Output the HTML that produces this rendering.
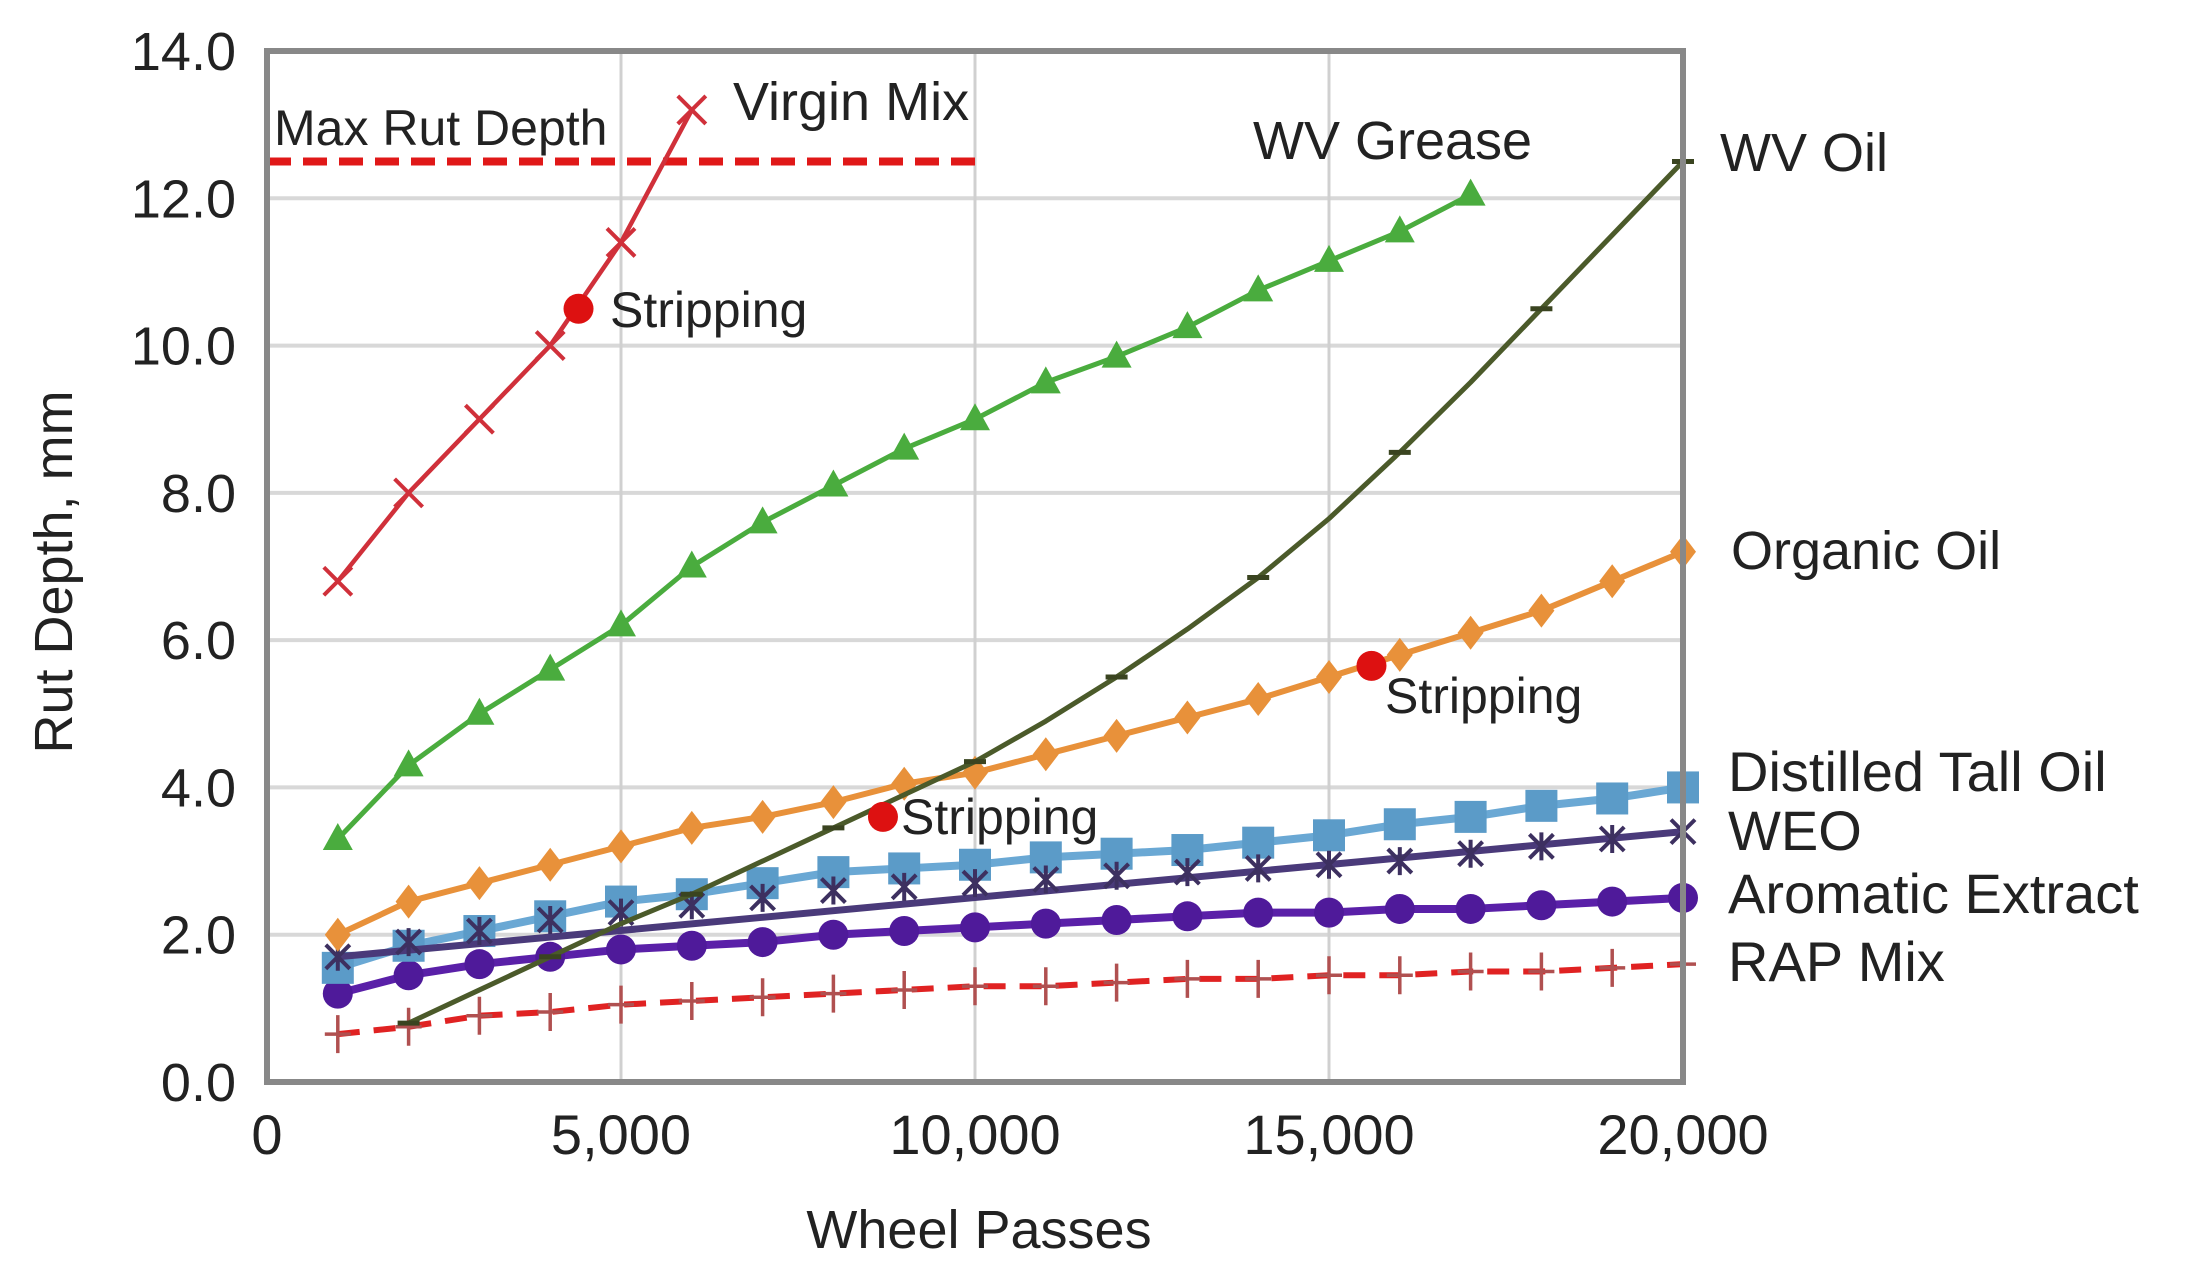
<!DOCTYPE html>
<html><head><meta charset="utf-8"><style>
html,body{margin:0;padding:0;background:#fff;}
svg{display:block;font-family:"Liberation Sans",sans-serif;}
text{fill:#222;}
</style></head><body>
<svg id="chart" width="2187" height="1280" viewBox="0 0 2187 1280" xmlns="http://www.w3.org/2000/svg">
<g id="grid"></g>
<g id="series"></g>
<g id="axes"></g>
<g id="labels">
<text transform="translate(72,572) rotate(-90)" text-anchor="middle" font-size="54">Rut Depth, mm</text>
<text x="979" y="1248" text-anchor="middle" font-size="54">Wheel Passes</text>
<text x="274" y="145" font-size="50">Max Rut Depth</text>
<text x="733" y="120" font-size="54">Virgin Mix</text>
<text x="610" y="327" font-size="50">Stripping</text>
<text x="1253" y="159" font-size="54">WV Grease</text>
<text x="1720" y="171" font-size="54">WV Oil</text>
<text x="1731" y="569" font-size="54">Organic Oil</text>
<text x="1385" y="713" font-size="50">Stripping</text>
<text x="1728" y="791" font-size="56">Distilled Tall Oil</text>
<text x="901" y="834" font-size="50">Stripping</text>
<text x="1728" y="850" font-size="56">WEO</text>
<text x="1728" y="913" font-size="56">Aromatic Extract</text>
<text x="1728" y="981" font-size="56">RAP Mix</text>
</g>
</svg>
<script>
const yTicks = [0,2,4,6,8,10,12,14];
const yTickLabels = ["0.0","2.0","4.0","6.0","8.0","10.0","12.0","14.0"];
const xTicks = [0,5000,10000,15000,20000];
const xTickLabels = ["0","5,000","10,000","15,000","20,000"];
const passes = [1000,2000,3000,4000,5000,6000,7000,8000,9000,10000,11000,12000,13000,14000,15000,16000,17000,18000,19000,20000];
const virginX = [1000,2000,3000,4000,5000,6000];
const virginMix = [6.8,8.0,9.0,10.0,11.4,13.2];
const greaseX = [1000,2000,3000,4000,5000,6000,7000,8000,9000,10000,11000,12000,13000,14000,15000,16000,17000];
const wvGrease = [3.3,4.3,5.0,5.6,6.2,7.0,7.6,8.1,8.6,9.0,9.5,9.85,10.25,10.75,11.15,11.55,12.05];
const oilX = [2000,3000,4000,5000,6000,7000,8000,9000,10000,11000,12000,13000,14000,15000,16000,17000,18000,19000,20000];
const wvOil = [0.8,1.25,1.7,2.15,2.55,3.0,3.45,3.9,4.35,4.9,5.5,6.15,6.85,7.65,8.55,9.5,10.5,11.5,12.5];
const organicOil = [2.0,2.45,2.7,2.95,3.2,3.45,3.6,3.8,4.05,4.2,4.45,4.7,4.95,5.2,5.5,5.8,6.1,6.4,6.8,7.2];
const distilledTallOil = [1.55,1.85,2.05,2.25,2.45,2.55,2.7,2.85,2.9,2.95,3.05,3.1,3.15,3.25,3.35,3.5,3.6,3.75,3.85,4.0];
const weo = [1.7,1.9,2.05,2.2,2.3,2.4,2.5,2.6,2.65,2.7,2.75,2.8,2.85,2.9,2.95,3.0,3.1,3.2,3.3,3.4];
const aromaticExtract = [1.2,1.45,1.6,1.7,1.8,1.85,1.9,2.0,2.05,2.1,2.15,2.2,2.25,2.3,2.3,2.35,2.35,2.4,2.45,2.5];
const rapMix = [0.65,0.75,0.9,0.95,1.05,1.1,1.15,1.2,1.25,1.3,1.3,1.35,1.4,1.4,1.45,1.45,1.5,1.5,1.55,1.6];
const maxRutDepth = 12.5;
const maxRutX = [0,10000];
const strippingX = [4400,8700,15600];
const strippingY = [10.5,3.6,5.65];

const NS="http://www.w3.org/2000/svg";
const X0=267,X1=1683,Y0=1082,Y1=51;
const xs=v=>X0+v/20000*(X1-X0);
const ys=v=>Y0-v/14*(Y0-Y1);
function mk(tag,attrs,parent){const e=document.createElementNS(NS,tag);for(const k in attrs)e.setAttribute(k,attrs[k]);parent.appendChild(e);return e;}
const grid=document.getElementById('grid'),series=document.getElementById('series'),axes=document.getElementById('axes');

yTicks.forEach((t,i)=>{
  if(i>0&&i<yTicks.length-1){const l=mk('line',{x1:X0,x2:X1,y1:ys(t),y2:ys(t),stroke:'#d8d8d8','stroke-width':4},grid);
  
  }
  const tx=mk('text',{x:236,y:ys(t)+19,'text-anchor':'end','font-size':54},axes);tx.textContent=yTickLabels[i];
  
  
});
xTicks.forEach((t,i)=>{
  if(i>0&&i<xTicks.length-1){const l=mk('line',{x1:xs(t),x2:xs(t),y1:Y1,y2:Y0,stroke:'#d0d0d0','stroke-width':3},grid);
  
  }
  const tx=mk('text',{x:xs(t),y:1154,'text-anchor':'middle','font-size':56},axes);tx.textContent=xTickLabels[i];
  
  
});
const frame=mk('rect',{x:X0,y:Y1,width:X1-X0,height:Y0-Y1,fill:'none',stroke:'#888','stroke-width':6},axes);



function pts(xa,ya){return xa.map((x,i)=>xs(x)+','+ys(ya[i])).join(' ');}
function line(xa,ya,color,w,name,dash){
  const p=mk('polyline',{points:pts(xa,ya),fill:'none',stroke:color,'stroke-width':w,'stroke-linejoin':'round'},series);
  if(dash)p.setAttribute('stroke-dasharray',dash);
  
  
}
function marker(type,x,y,color,name){
  let e;const cx=xs(x),cy=ys(y);
  if(type==='circle')e=mk('circle',{cx:cx,cy:cy,r:15,fill:color},series);
  else if(type==='square')e=mk('rect',{x:cx-16,y:cy-16,width:32,height:32,fill:color},series);
  else if(type==='tri')e=mk('polygon',{points:`${cx},${cy-16} ${cx-15},${cy+11} ${cx+15},${cy+11}`,fill:color},series);
  else if(type==='diamond')e=mk('polygon',{points:`${cx},${cy-17} ${cx-13},${cy} ${cx},${cy+17} ${cx+13},${cy}`,fill:color},series);
  else if(type==='x')e=mk('path',{d:`M${cx-14},${cy-14}L${cx+14},${cy+14}M${cx-14},${cy+14}L${cx+14},${cy-14}`,stroke:color,'stroke-width':4,fill:'none'},series);
  else if(type==='star')e=mk('path',{d:`M${cx-12},${cy-12}L${cx+12},${cy+12}M${cx-12},${cy+12}L${cx+12},${cy-12}M${cx},${cy-14}L${cx},${cy+14}`,stroke:color,'stroke-width':4,fill:'none'},series);
  else if(type==='plus')e=mk('path',{d:`M${cx-13},${cy}L${cx+13},${cy}M${cx},${cy-19}L${cx},${cy+19}`,stroke:color,'stroke-width':3.5,fill:'none'},series);
  else if(type==='tick')e=mk('path',{d:`M${cx-11},${cy}L${cx+11},${cy}`,stroke:color,'stroke-width':5,fill:'none'},series);
  
  
}
const mr=mk('line',{x1:xs(maxRutX[0]),x2:xs(maxRutX[1]),y1:ys(maxRutDepth),y2:ys(maxRutDepth),stroke:'#e01818','stroke-width':8,'stroke-dasharray':'24 12'},series);



line(passes,rapMix,'#e02222',6,'rap-mix-line','22 14');
passes.forEach((x,i)=>marker('plus',x,rapMix[i],'#b05050','rap-mix-marker'));
line(passes,aromaticExtract,'#5a20a8',8,'aromatic-extract-line');
passes.forEach((x,i)=>marker('circle',x,aromaticExtract[i],'#4f1a9a','aromatic-extract-marker'));
line(passes,distilledTallOil,'#6aa8d4',8,'distilled-tall-oil-line');
passes.forEach((x,i)=>marker('square',x,distilledTallOil[i],'#5b9bc8','distilled-tall-oil-marker'));
line([passes[0],passes[passes.length-1]],[weo[0],weo[weo.length-1]],'#4a3a7a',7,'weo-line');
passes.forEach((x,i)=>marker('star',x,weo[i],'#3d3060','weo-marker'));
line(passes,organicOil,'#e8913a',6,'organic-oil-line');
passes.forEach((x,i)=>marker('diamond',x,organicOil[i],'#e8913a','organic-oil-marker'));
line(oilX,wvOil,'#4b5a2a',5,'wv-oil-line');
oilX.forEach((x,i)=>{if(i%2===0)marker('tick',x,wvOil[i],'#3a4420','wv-oil-marker');});
line(greaseX,wvGrease,'#4aac3e',5,'wv-grease-line');
greaseX.forEach((x,i)=>marker('tri',x,wvGrease[i],'#4aac3e','wv-grease-marker'));
line(virginX,virginMix,'#d0303a',4.5,'virgin-mix-line');
virginX.forEach((x,i)=>marker('x',x,virginMix[i],'#d0303a','virgin-mix-marker'));
strippingX.forEach((x,i)=>{const c=mk('circle',{cx:xs(x),cy:ys(strippingY[i]),r:15,fill:'#dd1111'},series);
  
  });
</script>
</body></html>
